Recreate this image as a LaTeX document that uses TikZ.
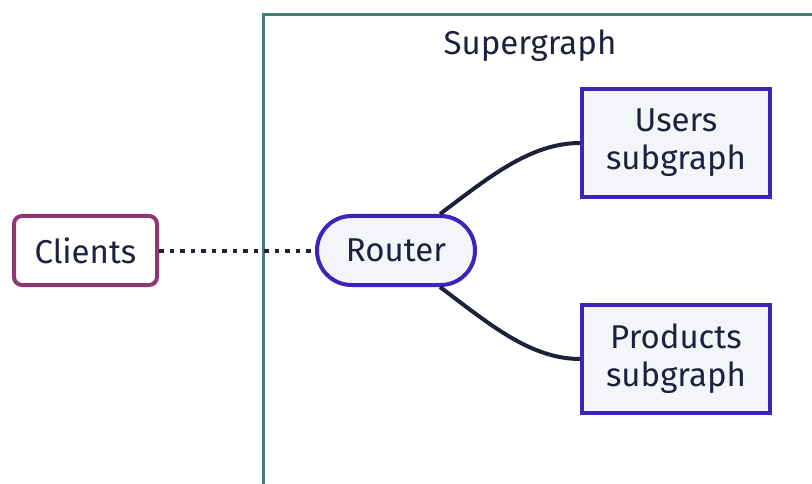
\documentclass[tikz,border=0pt]{standalone}
\usepackage{fontspec}
\setmainfont{Fira Sans}
\usetikzlibrary{positioning}

\definecolor{ink}{RGB}{29,33,62}
\definecolor{wire}{RGB}{30,33,58}
\definecolor{teal}{RGB}{69,127,120}
\definecolor{plum}{RGB}{142,55,114}
\definecolor{indigo}{RGB}{64,34,186}
\definecolor{mist}{RGB}{244,245,248}

\tikzset{
	label text/.style={text=ink, font=\fontsize{33}{38}\selectfont, align=center, inner sep=0pt},
	client box/.style={label text, draw=plum, line width=4pt, fill=white, rounded corners=8pt,
		minimum width=143pt, minimum height=69pt},
	router box/.style={label text, draw=indigo, line width=4pt, fill=mist, rounded corners=34.5pt,
		minimum width=158pt, minimum height=69pt},
	subgraph box/.style={label text, draw=indigo, line width=4pt, fill=mist,
		minimum width=188pt, minimum height=108pt},
	wire/.style={draw=wire, line width=4pt}
}

\begin{document}
\begin{tikzpicture}[x=1pt, y=-1pt]
	%%%%% frame %%%%%
	\clip (0, 0) rectangle (812, 484);
	
	\draw[teal, line width=3.5pt] (263.5, 14.5) rectangle (850, 530);
	\node[label text] (super) at (530, 46) {Supergraph};
	
	%%%%% nodes %%%%%
	\node[client box] (clients) at (85.5, 250.5) {Clients};
	\node[router box] (router) at (396, 250.5) {Router};
	\node[subgraph box] (users) at (676, 143) {Users\\subgraph};
	\node[subgraph box] (products) at (676, 359) {Products\\subgraph};
	
	%%%%% connectors %%%%%
	\draw[wire, dash pattern=on 4.5pt off 6pt] (clients.east) -- (router.west);
	\draw[wire] ([xshift=44pt]router.north) .. controls +(48, -36) and +(-50, 0) .. (users.west);
	\draw[wire] ([xshift=44pt]router.south) .. controls +(48, 36) and +(-50, 0) .. (products.west);
\end{tikzpicture}
\end{document}
